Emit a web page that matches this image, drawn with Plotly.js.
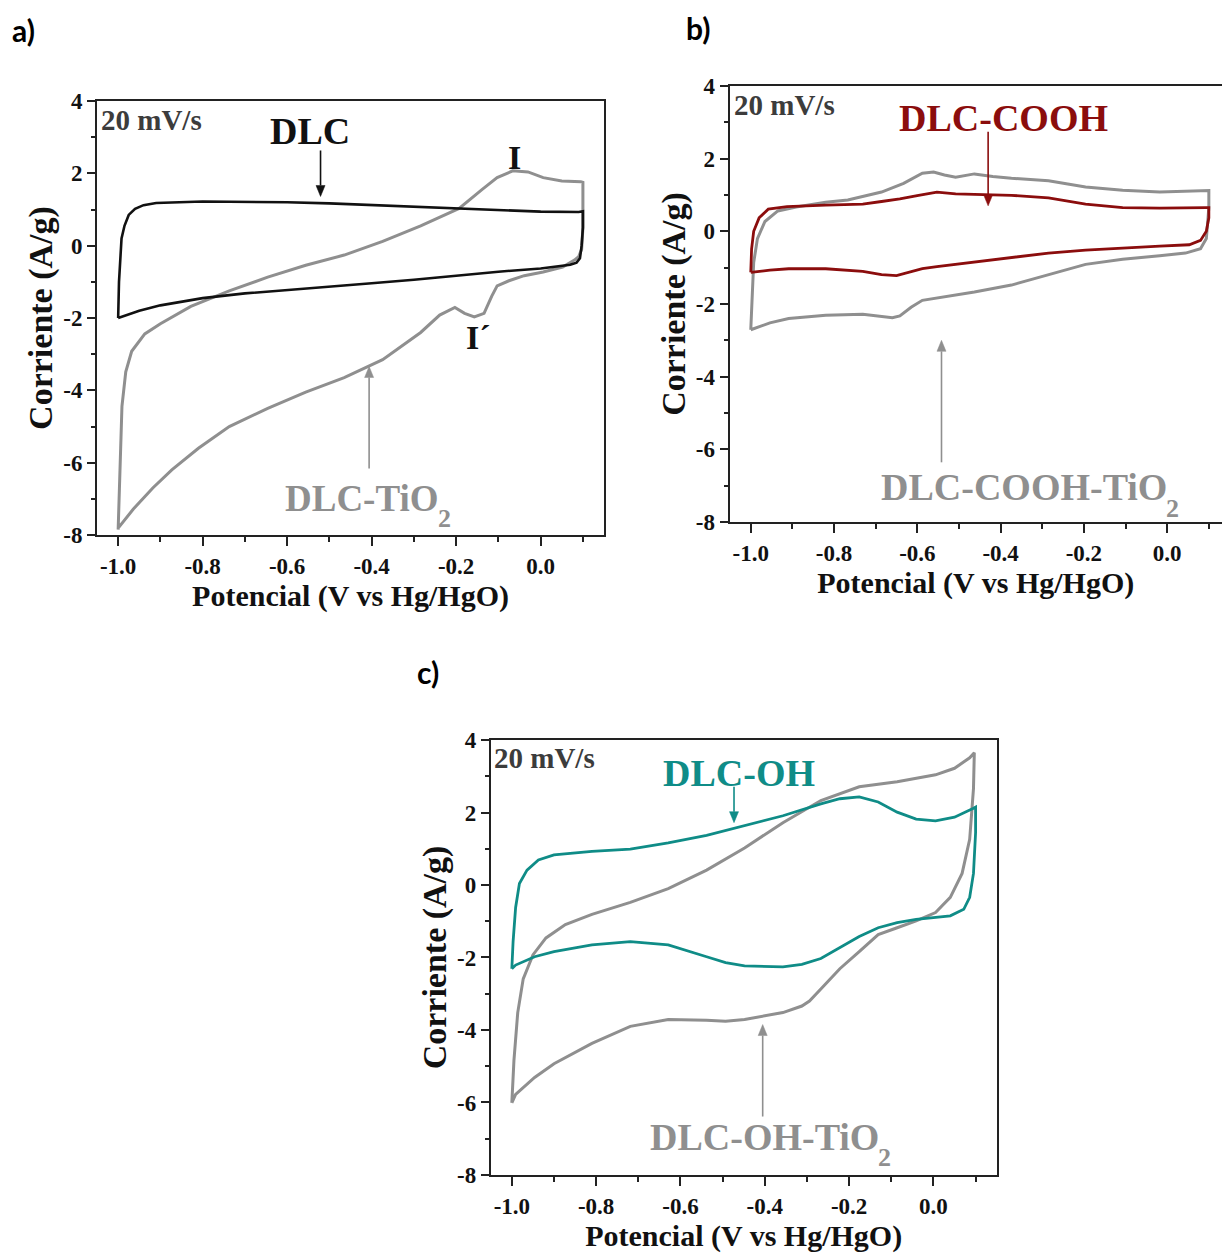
<!DOCTYPE html>
<html>
<head>
<meta charset="utf-8">
<script src="https://cdn.plot.ly/plotly-3.0.1.min.js"></script>
<style>html,body{margin:0;padding:0;background:#fff;}#chart{width:1222px;height:1253px;}</style>
</head>
<body>
<div id="chart"></div>
<script>
// ---------- tick labels ----------
const xTickVals = [-1.0, -0.8, -0.6, -0.4, -0.2, 0.0];
const xTickText = ['-1.0', '-0.8', '-0.6', '-0.4', '-0.2', '0.0'];
const yTickVals = [-8, -6, -4, -2, 0, 2, 4];
const yTickText = ['-8', '-6', '-4', '-2', '0', '2', '4'];

// ---------- panel a) ----------
const aDlcX = [-1.0, -0.998, -0.992, -0.985, -0.975, -0.96, -0.94, -0.91, -0.8, -0.7, -0.6, -0.5, -0.4, -0.3, -0.2, -0.1, 0.0, 0.09, 0.1, 0.1, 0.097, 0.093, 0.085, 0.07, 0.04, 0.0, -0.1, -0.2, -0.3, -0.4, -0.5, -0.6, -0.7, -0.8, -0.9, -0.95, -0.99, -1.0];
const aDlcY = [-2.0, -1.0, 0.2, 0.55, 0.85, 1.02, 1.12, 1.18, 1.22, 1.22, 1.2, 1.17, 1.12, 1.07, 1.02, 0.97, 0.94, 0.93, 0.95, 0.5, 0.0, -0.35, -0.47, -0.53, -0.58, -0.63, -0.72, -0.84, -0.94, -1.04, -1.13, -1.22, -1.32, -1.45, -1.65, -1.8, -1.95, -2.0];
const aTiX = [-1.0, -0.995, -0.991, -0.982, -0.968, -0.937, -0.9, -0.828, -0.737, -0.646, -0.556, -0.465, -0.374, -0.284, -0.193, -0.139, -0.103, -0.066, -0.03, 0.006, 0.05, 0.095, 0.1, 0.1, 0.097, 0.09, 0.08, 0.052, 0.006, -0.039, -0.075, -0.103, -0.116, -0.134, -0.157, -0.18, -0.203, -0.239, -0.284, -0.374, -0.465, -0.556, -0.646, -0.737, -0.81, -0.873, -0.918, -0.964, -1.0];
const aTiY = [-7.85, -5.86, -4.44, -3.49, -2.92, -2.44, -2.16, -1.68, -1.25, -0.87, -0.54, -0.26, 0.12, 0.55, 1.03, 1.55, 1.88, 2.07, 2.04, 1.88, 1.79, 1.77, 1.75, 0.5, -0.1, -0.3, -0.4, -0.59, -0.73, -0.83, -0.97, -1.11, -1.4, -1.87, -1.97, -1.87, -1.71, -1.92, -2.4, -3.15, -3.65, -4.05, -4.5, -5.0, -5.6, -6.2, -6.7, -7.28, -7.81];

// ---------- panel b) ----------
const bCoohX = [-1.0, -0.998, -0.993, -0.98, -0.958, -0.913, -0.82, -0.731, -0.686, -0.642, -0.597, -0.553, -0.508, -0.437, -0.374, -0.285, -0.196, -0.107, -0.018, 0.094, 0.1, 0.1, 0.094, 0.08, 0.053, -0.018, -0.107, -0.196, -0.285, -0.374, -0.463, -0.553, -0.588, -0.624, -0.65, -0.686, -0.731, -0.82, -0.909, -0.954, -1.0];
const bCoohY = [-1.13, -0.48, 0.0, 0.37, 0.61, 0.68, 0.72, 0.75, 0.82, 0.89, 0.99, 1.08, 1.03, 1.01, 0.99, 0.92, 0.75, 0.65, 0.64, 0.65, 0.65, 0.37, 0.0, -0.25, -0.37, -0.41, -0.46, -0.52, -0.6, -0.72, -0.85, -0.97, -1.03, -1.15, -1.22, -1.19, -1.1, -1.03, -1.03, -1.07, -1.13];
const bTiX = [-1.0, -0.996, -0.993, -0.984, -0.966, -0.935, -0.891, -0.82, -0.767, -0.686, -0.633, -0.588, -0.561, -0.535, -0.508, -0.463, -0.419, -0.374, -0.285, -0.196, -0.107, -0.018, 0.094, 0.1, 0.1, 0.094, 0.08, 0.044, -0.018, -0.107, -0.196, -0.285, -0.374, -0.463, -0.508, -0.553, -0.588, -0.615, -0.642, -0.66, -0.686, -0.731, -0.82, -0.909, -0.954, -1.0];
const bTiY = [-2.71, -1.72, -0.86, -0.2, 0.27, 0.56, 0.67, 0.8, 0.86, 1.08, 1.32, 1.6, 1.63, 1.55, 1.49, 1.58, 1.51, 1.46, 1.39, 1.22, 1.13, 1.08, 1.13, 1.12, 0.65, -0.2, -0.48, -0.6, -0.67, -0.77, -0.91, -1.19, -1.48, -1.67, -1.76, -1.83, -1.9, -2.09, -2.33, -2.38, -2.35, -2.28, -2.31, -2.4, -2.52, -2.71];

// ---------- panel c) ----------
const cOhX = [-1.0, -0.997, -0.991, -0.982, -0.964, -0.937, -0.9, -0.81, -0.719, -0.629, -0.538, -0.448, -0.357, -0.267, -0.222, -0.176, -0.131, -0.086, -0.041, 0.005, 0.05, 0.095, 0.1, 0.1, 0.095, 0.086, 0.072, 0.04, 0.005, -0.041, -0.086, -0.131, -0.176, -0.222, -0.267, -0.312, -0.357, -0.448, -0.493, -0.538, -0.629, -0.719, -0.81, -0.9, -0.946, -0.991, -1.0];
const cOhY = [-2.31, -1.56, -0.62, 0.04, 0.41, 0.69, 0.83, 0.93, 0.99, 1.16, 1.37, 1.63, 1.91, 2.24, 2.38, 2.43, 2.29, 2.01, 1.82, 1.77, 1.87, 2.12, 2.15, 1.44, 0.32, -0.34, -0.67, -0.85, -0.9, -0.95, -1.04, -1.18, -1.42, -1.74, -2.03, -2.19, -2.26, -2.23, -2.14, -1.98, -1.65, -1.56, -1.65, -1.84, -1.98, -2.21, -2.31];
const cTiX = [-1.0, -0.995, -0.986, -0.973, -0.95, -0.919, -0.873, -0.81, -0.719, -0.629, -0.538, -0.448, -0.357, -0.267, -0.176, -0.086, 0.005, 0.05, 0.086, 0.097, 0.095, 0.086, 0.068, 0.04, 0.005, -0.041, -0.086, -0.131, -0.176, -0.222, -0.267, -0.294, -0.312, -0.357, -0.448, -0.493, -0.538, -0.629, -0.719, -0.81, -0.9, -0.946, -0.991, -1.0];
const cTiY = [-6.01, -4.84, -3.52, -2.59, -1.93, -1.46, -1.09, -0.81, -0.48, -0.1, 0.41, 1.02, 1.72, 2.33, 2.71, 2.85, 3.04, 3.22, 3.51, 3.65, 2.66, 1.26, 0.32, -0.34, -0.76, -0.99, -1.18, -1.37, -1.84, -2.31, -2.87, -3.2, -3.34, -3.52, -3.71, -3.76, -3.73, -3.71, -3.9, -4.37, -4.93, -5.31, -5.78, -6.01];

// ---------- styles ----------
const W = 1222, H = 1253;
const SERIF = 'Liberation Serif, Times New Roman, serif';
const GRAY = '#8f8f8f';
const BLACK = '#111111';
const RED = '#8b0d0d';
const TEAL = '#0f8c87';

function line(x, y, color, width, xa, ya) {
  return {x: x, y: y, type: 'scatter', mode: 'lines', xaxis: xa, yaxis: ya,
          line: {color: color, width: width}, hoverinfo: 'skip'};
}

const traces = [
  line(aTiX, aTiY, GRAY, 3, 'x', 'y'),
  line(aDlcX, aDlcY, BLACK, 2.6, 'x', 'y'),
  line(bTiX, bTiY, GRAY, 3, 'x2', 'y2'),
  line(bCoohX, bCoohY, RED, 2.8, 'x2', 'y2'),
  line(cTiX, cTiY, GRAY, 3, 'x3', 'y3'),
  line(cOhX, cOhY, TEAL, 2.8, 'x3', 'y3')
];

function xAxis(domain, range, anchor, mirror) {
  return {
    domain: domain, range: range, anchor: anchor, autorange: false,
    showline: true, linecolor: '#222', linewidth: 2, mirror: mirror,
    ticks: 'outside', ticklen: 9, tickwidth: 2, tickcolor: '#222',
    tickmode: 'array', tickvals: xTickVals, ticktext: xTickText,
    minor: {tickmode: 'linear', tick0: 0, dtick: 0.1, ticks: 'outside', ticklen: 5, tickwidth: 2, tickcolor: '#222', showgrid: false},
    showgrid: false, zeroline: false,
    tickfont: {family: SERIF, size: 23, color: '#111', weight: 'bold'},
    title: {text: 'Potencial (V vs Hg/HgO)', standoff: 6,
            font: {family: SERIF, size: 30, color: '#111', weight: 'bold'}}
  };
}
function yAxis(domain, anchor, mirror) {
  return {
    domain: domain, range: [-8, 4], anchor: anchor, autorange: false,
    showline: true, linecolor: '#222', linewidth: 2, mirror: mirror,
    ticks: 'outside', ticklen: 8, tickwidth: 2, tickcolor: '#222',
    tickmode: 'array', tickvals: yTickVals, ticktext: yTickText,
    minor: {tickmode: 'linear', tick0: 0, dtick: 1, ticks: 'outside', ticklen: 4, tickwidth: 2, tickcolor: '#222', showgrid: false},
    showgrid: false, zeroline: false,
    tickfont: {family: SERIF, size: 23, color: '#111', weight: 'bold'},
    title: {text: 'Corriente (A/g)', standoff: 0,
            font: {family: SERIF, size: 34, color: '#111', weight: 'bold'}}
  };
}

const layout = {
  width: W, height: H,
  margin: {l: 0, r: 0, t: 0, b: 0},
  paper_bgcolor: '#ffffff', plot_bgcolor: '#ffffff',
  showlegend: false,
  xaxis: xAxis([0.0794, 0.4943], [-1.05, 0.15], 'y', true),
  yaxis: yAxis([0.5730, 0.9194], 'x', true),
  xaxis2: xAxis([0.597, 1.0], [-1.051, 0.1316], 'y2', true),
  yaxis2: yAxis([0.5834, 0.9314], 'x2', false),
  xaxis3: xAxis([0.4016, 0.8156], [-1.05, 0.15], 'y3', true),
  yaxis3: yAxis([0.0623, 0.4094], 'x3', true)
};

function label(text, x, y, xr, yr, color, size, xanchor, yshift, xshift) {
  return {text: text, x: x, y: y, xref: xr, yref: yr, showarrow: false,
          xanchor: xanchor || 'center', yanchor: 'middle',
          yshift: yshift || 0, xshift: xshift || 0,
          font: {family: SERIF, size: size, color: color, weight: 'bold'}};
}
function panel(text, x, y) {
  return {text: text, x: x, y: y, xref: 'paper', yref: 'paper', showarrow: false,
          xanchor: 'center', yanchor: 'middle',
          font: {family: 'Lato, Liberation Sans, sans-serif', size: 30, color: '#000', weight: 'bold'}};
}
// Arrow drawn as shapes: shaft + filled head. tailPx > 0 -> tail below head (arrow up)
function arrowShapes(n, x, yHead, tailPx, color) {
  const xa = layout['xaxis' + n], ya = layout['yaxis' + n];
  const xr = 'x' + n, yr = 'y' + n;
  const ppx = (xa.domain[1] - xa.domain[0]) * W / (xa.range[1] - xa.range[0]);
  const ppy = (ya.domain[1] - ya.domain[0]) * H / (ya.range[1] - ya.range[0]);
  const sgn = tailPx > 0 ? 1 : -1;
  const yTail = yHead - tailPx / ppy;
  const yBase = yHead - sgn * 11 / ppy;
  const hw = 4.5 / ppx;
  return [
    {type: 'line', xref: xr, yref: yr, x0: x, x1: x, y0: yTail, y1: yBase,
     line: {color: color, width: 1.6}},
    {type: 'path', xref: xr, yref: yr,
     path: 'M ' + (x - hw) + ',' + yBase + ' L ' + (x + hw) + ',' + yBase + ' L ' + x + ',' + yHead + ' Z',
     fillcolor: color, line: {color: color, width: 0.5}}
  ];
}

layout.annotations = [
  panel('a)', 0.019, 0.976),
  panel('b)', 0.571, 0.978),
  panel('c)', 0.350, 0.4637),
  // a
  label('20 mV/s', -1.045, 3.47, 'x', 'y', '#3c3c3c', 29, 'left'),
  label('DLC', -0.547, 3.16, 'x', 'y', BLACK, 38),
  label('I', -0.062, 2.45, 'x', 'y', BLACK, 34),
  label('I´', -0.148, -2.54, 'x', 'y', BLACK, 34),
  label('DLC-TiO', -0.245, -6.98, 'x', 'y', GRAY, 37, 'right', 0, 4),
  label('2', -0.245, -6.98, 'x', 'y', GRAY, 26, 'left', -20, -1),
  // b
  label('20 mV/s', -1.046, 3.48, 'x2', 'y2', '#3c3c3c', 29, 'left'),
  label('DLC-COOH', -0.392, 3.12, 'x2', 'y2', RED, 38),
  label('DLC-COOH-TiO', -0.004, -7.04, 'x2', 'y2', GRAY, 38, 'right', 0, 3),
  label('2', -0.004, -7.04, 'x2', 'y2', GRAY, 26, 'left', -21, -2),
  // c
  label('20 mV/s', -1.046, 3.50, 'x3', 'y3', '#3c3c3c', 29, 'left'),
  label('DLC-OH', -0.462, 3.08, 'x3', 'y3', TEAL, 38),
  label('DLC-OH-TiO', -0.135, -6.95, 'x3', 'y3', GRAY, 38, 'right', 0, 4),
  label('2', -0.135, -6.95, 'x3', 'y3', GRAY, 26, 'left', -21, -1)
];

layout.shapes = [].concat(
  arrowShapes('', -0.521, 1.36, -46, BLACK),
  arrowShapes('', -0.406, -3.34, 102, GRAY),
  arrowShapes('2', -0.43, 0.70, -74, RED),
  arrowShapes('2', -0.542, -3.0, 122, GRAY),
  arrowShapes('3', -0.473, 1.72, -36, TEAL),
  arrowShapes('3', -0.405, -3.85, 92, GRAY)
);

Plotly.newPlot('chart', traces, layout, {displayModeBar: false, staticPlot: true});
</script>
</body>
</html>
